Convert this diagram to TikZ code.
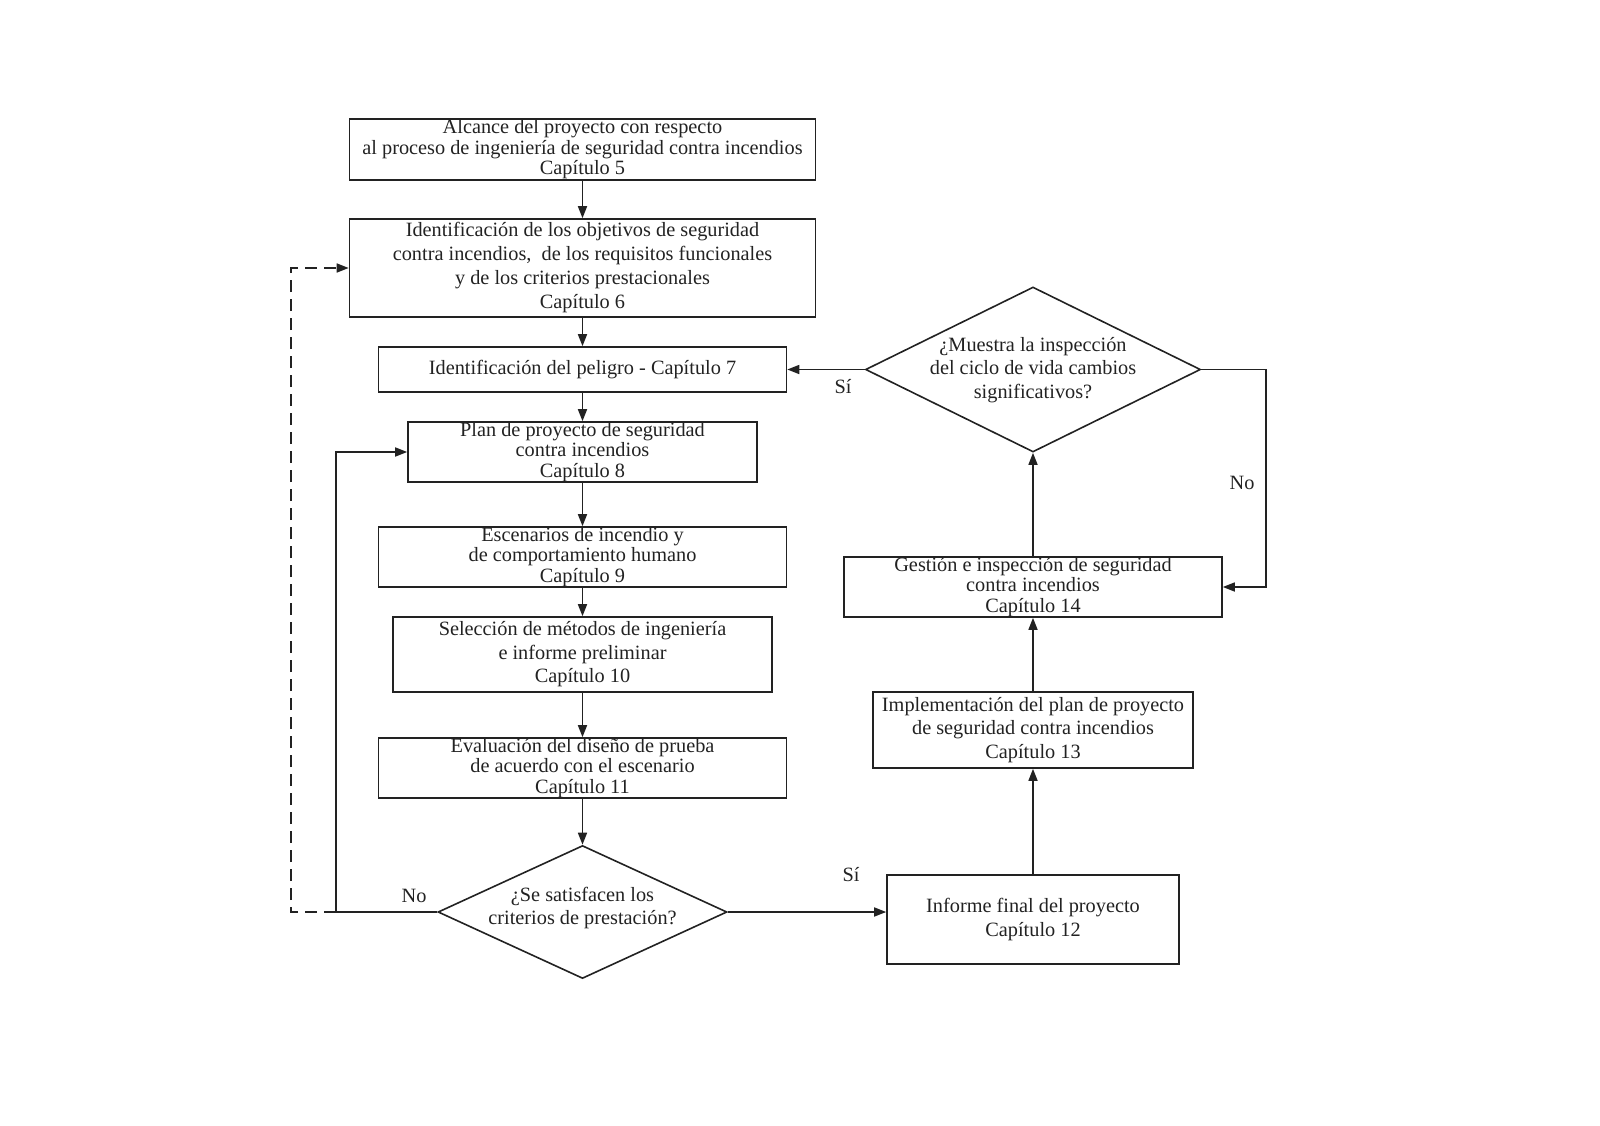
\documentclass[tikz,border=0pt]{standalone}
\usepackage{fontspec}
\setmainfont{Liberation Serif}
\usetikzlibrary{shapes.geometric,arrows.meta}
\definecolor{ink}{HTML}{222222}
\tikzset{
  box/.style={draw=ink, line width=1.6pt, inner sep=0pt, align=center, text=ink},
  fa/.style={font=\fontsize{20.3}{20.5}\selectfont},
  fb/.style={font=\fontsize{20.3}{23.5}\selectfont},
  dia/.style={draw=ink, line width=1.6pt, shape=diamond, inner sep=0pt},
  lbl/.style={text=ink, font=\fontsize{20.3}{20}\selectfont, inner sep=0pt},
  arr/.style={draw=ink, line width=1.6pt, -{Triangle[length=12pt,width=9pt]}},
  dsh/.style={draw=ink, line width=1.6pt, dash pattern=on 12pt off 7pt, -{Triangle[length=12pt,width=9pt]}}
}
\begin{document}
\begin{tikzpicture}[x=1pt,y=-1pt]
\useasboundingbox (0,0) rectangle (1600,1125);
\node[box,fa,minimum width=466pt,minimum height=61pt] (b1) at (582.5,149.5) {Alcance del proyecto con respecto\\al proceso de ingeniería de seguridad contra incendios\\Capítulo 5};
\node[box,font=\fontsize{20.3}{24}\selectfont,minimum width=466pt,minimum height=98pt] (b2) at (582.5,268) {Identificación de los objetivos de seguridad\\contra incendios,\ \ de los requisitos funcionales\\y de los criterios prestacionales\\Capítulo 6};
\node[box,fa,minimum width=408pt,minimum height=45pt] (b3) at (582.5,369.5) {Identificación del peligro - Capítulo 7};
\node[box,fa,minimum width=349pt,minimum height=60pt] (b4) at (582.5,452) {Plan de proyecto de seguridad\\contra incendios\\Capítulo 8};
\node[box,fa,minimum width=408pt,minimum height=60pt] (b5) at (582.5,557) {Escenarios de incendio y\\de comportamiento humano\\Capítulo 9};
\node[box,fb,minimum width=379pt,minimum height=75pt] (b6) at (582.5,654.5) {Selección de métodos de ingeniería\\e informe preliminar\\Capítulo 10};
\node[box,fa,minimum width=408pt,minimum height=60pt] (b7) at (582.5,768) {Evaluación del diseño de prueba\\de acuerdo con el escenario\\Capítulo 11};
\node[dia,minimum width=289pt,minimum height=133pt] (d1) at (582.5,912) {};
\node[lbl,fb,align=center] (d1t) at (582.5,908) {¿Se satisfacen los\\criterios de prestación?};
\node[box,fb,minimum width=292pt,minimum height=89pt] (b12) at (1033,919.5) {Informe final del proyecto\\Capítulo 12};
\node[box,fb,minimum width=320pt,minimum height=76pt] (b13) at (1033,730) {Implementación del plan de proyecto\\de seguridad contra incendios\\Capítulo 13};
\node[box,fa,minimum width=378pt,minimum height=60pt] (b14) at (1033,587) {Gestión e inspección de seguridad\\contra incendios\\Capítulo 14};
\node[dia,minimum width=335pt,minimum height=165pt] (d2) at (1033,369.5) {};
\node[lbl,fb,align=center] (d2t) at (1033,370) {¿Muestra la inspección\\del ciclo de vida cambios\\significativos?};
\coordinate (c1) at (336,912);
\coordinate (c2) at (291,912);
\coordinate (c3) at (1266,369.5);
\draw[arr] (b1) -- (b2);
\draw[arr] (b2) -- (b3);
\draw[arr] (b3) -- (b4);
\draw[arr] (b4) -- (b5);
\draw[arr] (b5) -- (b6);
\draw[arr] (b6) -- (b7);
\draw[arr] (b7) -- (d1.north);
\draw[arr] (d1.east) -- (d1.east -| b12.west);
\draw[arr] (b12) -- (b13);
\draw[arr] (b13) -- (b14);
\draw[arr] (b14) -- (d2.south);
\draw[arr] (d2.west) -- (d2.west -| b3.east);
\draw[arr] (d2.east) -- (c3) |- (b14.east);
\draw[arr] (d1.west) -- (c1) |- (b4.west);
\draw[dsh] (c1) -- (c2) |- (b2.west);
\node[lbl] (no1) at (414,896) {No};
\node[lbl] (si1) at (851,875) {Sí};
\node[lbl] (si2) at (843,387) {Sí};
\node[lbl] (no2) at (1242,483) {No};
\end{tikzpicture}
\end{document}
